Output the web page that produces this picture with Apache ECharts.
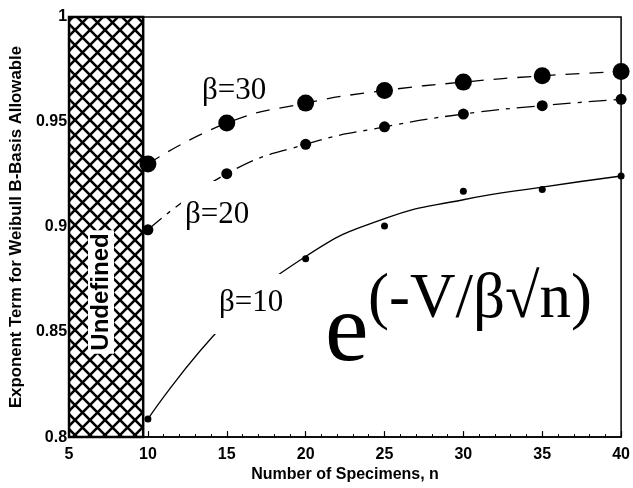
<!DOCTYPE html>
<html>
<head>
<meta charset="utf-8">
<script src="https://cdn.jsdelivr.net/npm/echarts@6/dist/echarts.min.js"></script>
<style>
  html, body { margin: 0; padding: 0; background: #fff; }
  #chart { width: 633px; height: 488px; }
</style>
</head>
<body>
<div id="chart"></div>
<script>
// ---- data ----
const nValues = [10, 15, 20, 25, 30, 35, 40];
const beta30 = [0.930, 0.9495, 0.959, 0.965, 0.969, 0.972, 0.974];
const beta20 = [0.8987, 0.9254, 0.9394, 0.9477, 0.9538, 0.9578, 0.9608];
const beta10Points = [0.8086, null, 0.8849, 0.9005, 0.9171, 0.9179, 0.9243];
const beta10Curve = [0.8086, 0.855, 0.886, 0.904, 0.913, 0.919, 0.9243];
const xTicks = [5, 10, 15, 20, 25, 30, 35, 40];
const yTicks = [0.8, 0.85, 0.9, 0.95, 1];
const undefinedRange = [5, 9.7];
const seriesLabels = ['β=30', 'β=20', 'β=10'];
const xName = 'Number of Specimens, n';
const yName = 'Exponent Term for Weibull B-Basis Allowable';

function pairs(ys) { return nValues.map((n, i) => [n, ys[i]]).filter(p => p[1] !== null); }

// crosshatch pattern
const T = 15;
const tile = document.createElement('canvas');
tile.width = T; tile.height = T;
const c = tile.getContext('2d');
c.fillStyle = '#fff'; c.fillRect(0, 0, T, T);
c.strokeStyle = '#000'; c.lineWidth = 2.6;
c.beginPath();
c.moveTo(-2, -2); c.lineTo(T + 2, T + 2);
c.moveTo(T + 2, -2); c.lineTo(-2, T + 2);
c.stroke();

const chart = echarts.init(document.getElementById('chart'), null, { renderer: 'canvas' });
const axisFont = { color: '#000', fontFamily: 'Liberation Sans', fontWeight: 'bold', fontSize: 16 };
const serif = 'Liberation Serif';

chart.setOption({
  animation: false,
  backgroundColor: '#fff',
  grid: { left: 64, right: 8, top: 17, bottom: 44, show: true, borderColor: '#000', borderWidth: 1.5 },
  xAxis: {
    type: 'value', min: xTicks[0], max: xTicks[xTicks.length - 1], interval: 5,
    name: xName, nameLocation: 'middle', nameGap: 27,
    nameTextStyle: axisFont,
    axisLine: { lineStyle: { color: '#000', width: 1.5 } },
    axisTick: { inside: true, length: 6, lineStyle: { color: '#000', width: 1.2 } },
    minorTick: { show: true, splitNumber: 5, length: 3, lineStyle: { color: '#000', width: 1 } },
    axisLabel: Object.assign({ margin: 9 }, axisFont),
    splitLine: { show: false }
  },
  yAxis: {
    type: 'value', min: yTicks[0], max: yTicks[yTicks.length - 1], interval: 0.05,
    name: yName, nameLocation: 'middle', nameGap: 37,
    nameTextStyle: Object.assign({}, axisFont, { fontSize: 16.8 }),
    axisLine: { lineStyle: { color: '#000', width: 1.5 } },
    axisTick: { show: false },
    axisLabel: Object.assign({ margin: 2 }, axisFont),
    splitLine: { show: false }
  },
  series: [
    {
      type: 'line', name: seriesLabels[0], data: pairs(beta30), smooth: true,
      symbol: 'circle', symbolSize: 17, showSymbol: true,
      itemStyle: { color: '#000', opacity: 1 },
      lineStyle: { color: '#000', width: 1.3, type: [14, 10] },
      markArea: {
        silent: true,
        itemStyle: { color: { image: tile, repeat: 'repeat' }, borderColor: '#000', borderWidth: 2.5, opacity: 1 },
        data: [[{ xAxis: undefinedRange[0] }, { xAxis: undefinedRange[1] }]]
      },
      z: 3
    },
    {
      type: 'line', name: seriesLabels[1], data: pairs(beta20), smooth: true,
      symbol: 'circle', symbolSize: 11, showSymbol: true,
      itemStyle: { color: '#000', opacity: 1 },
      lineStyle: { color: '#000', width: 1.3, type: [18, 7, 4, 7] },
      z: 3
    },
    {
      type: 'line', name: seriesLabels[2] + ' fit', data: pairs(beta10Curve), smooth: true,
      showSymbol: false, symbol: 'none',
      lineStyle: { color: '#000', width: 1.3 },
      z: 3
    },
    {
      type: 'scatter', name: seriesLabels[2], data: pairs(beta10Points),
      symbol: 'circle', symbolSize: 7,
      itemStyle: { color: '#000', opacity: 1 },
      z: 4
    }
  ],
  graphic: [
    { type: 'text', z: 100, x: 200, y: 106, style: { text: seriesLabels[0], font: '31px ' + serif, fill: '#000', verticalAlign: 'bottom', backgroundColor: '#fff', padding: [0, 2, 0, 2] } },
    { type: 'text', z: 100, x: 181, y: 238, style: { text: seriesLabels[1], font: '31px ' + serif, fill: '#000', verticalAlign: 'bottom', backgroundColor: '#fff', padding: [18, 4, 8, 4] } },
    { type: 'text', z: 100, x: 211, y: 334, style: { text: seriesLabels[2], font: '31px ' + serif, fill: '#000', verticalAlign: 'bottom', backgroundColor: '#fff', padding: [13, 14, 16, 8] } },
    { type: 'text', z: 100, x: 101, y: 292, rotation: Math.PI / 2, style: { text: 'Undefined', font: 'bold 24px Liberation Sans', fill: '#000', align: 'center', verticalAlign: 'middle', backgroundColor: '#fff', padding: [2, 3, 0, 3] } },
    { type: 'text', z: 100, x: 325, y: 383, style: { text: 'e', font: '98px ' + serif, fill: '#000', verticalAlign: 'bottom' } },
    { type: 'text', z: 100, x: 368, y: 332, style: { text: '(-V/β√n)', font: '63px ' + serif, fill: '#000', verticalAlign: 'bottom' } }
  ]
});
</script>
</body>
</html>
